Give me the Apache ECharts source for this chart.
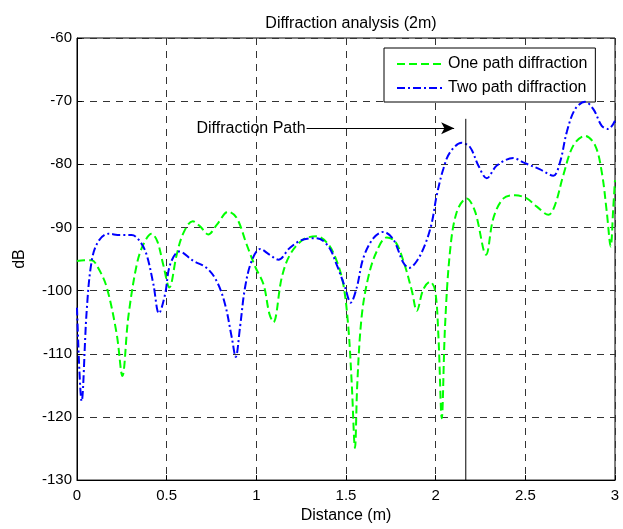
<!DOCTYPE html>
<html>
<head>
<meta charset="utf-8">
<script src="https://cdn.jsdelivr.net/npm/echarts@6/dist/echarts.min.js"></script>
<style>
html,body{margin:0;padding:0;background:#fff;}
#chart{width:623px;height:529px;}
</style>
</head>
<body>
<div id="chart"></div>
<script>
var titleText = 'Diffraction analysis (2m)';
var xName = 'Distance (m)';
var yName = 'dB';
var seriesNames = ['One path diffraction', 'Two path diffraction'];
var xTicks = [0, 0.5, 1, 1.5, 2, 2.5, 3];
var yTicks = [-130, -120, -110, -100, -90, -80, -70, -60];

var onePathX = [0, 0.04, 0.082, 0.12, 0.166, 0.221, 0.253, 0.286, 0.333, 0.37, 0.416, 0.448, 0.481, 0.515, 0.556, 0.593, 0.645, 0.686, 0.732, 0.779, 0.844, 0.891, 0.946, 0.995, 1.04, 1.073, 1.095, 1.142, 1.188, 1.262, 1.337, 1.402, 1.448, 1.485, 1.513, 1.532, 1.55, 1.563, 1.587, 1.624, 1.671, 1.727, 1.774, 1.82, 1.867, 1.895, 1.931, 1.969, 1.997, 2.015, 2.034, 2.052, 2.08, 2.118, 2.173, 2.22, 2.281, 2.322, 2.378, 2.443, 2.508, 2.564, 2.629, 2.666, 2.712, 2.768, 2.833, 2.889, 2.926, 2.954, 2.976, 2.99, 3.0];
var onePathY = [-95.3, -95.2, -95.2, -96.5, -99.5, -106.8, -113.5, -104.2, -95.9, -92.7, -91.0, -92.2, -95.9, -99.5, -94.3, -90.9, -89.0, -89.8, -91.1, -89.6, -87.5, -88.5, -92.7, -96.3, -99.0, -103.7, -105.0, -97.9, -94.3, -91.9, -91.4, -92.7, -95.3, -99.0, -105.8, -114.7, -124.9, -114.7, -104.2, -97.9, -93.8, -91.6, -92.2, -95.3, -100.0, -103.2, -99.8, -98.6, -100.0, -107.0, -120.2, -105.8, -93.8, -87.5, -85.4, -87.5, -94.3, -88.5, -85.4, -84.9, -85.4, -86.7, -88.0, -86.4, -81.7, -77.0, -75.5, -77.0, -81.2, -87.5, -93.0, -87.0, -82.5];

var twoPathX = [0, 0.026, 0.054, 0.082, 0.119, 0.175, 0.24, 0.305, 0.351, 0.388, 0.426, 0.457, 0.491, 0.519, 0.571, 0.649, 0.723, 0.779, 0.825, 0.863, 0.885, 0.909, 0.937, 0.974, 1.021, 1.073, 1.123, 1.188, 1.262, 1.337, 1.402, 1.448, 1.495, 1.526, 1.56, 1.597, 1.653, 1.708, 1.764, 1.82, 1.852, 1.895, 1.941, 1.978, 2.006, 2.043, 2.08, 2.145, 2.192, 2.238, 2.285, 2.341, 2.433, 2.489, 2.582, 2.656, 2.694, 2.731, 2.777, 2.833, 2.88, 2.926, 2.963, 3.0];
var twoPathY = [-102.7, -117.5, -103.2, -95.3, -92.2, -91.0, -91.2, -91.2, -92.2, -94.3, -99.0, -103.6, -100.6, -95.9, -93.8, -95.3, -96.4, -98.5, -102.1, -107.4, -110.5, -105.8, -99.5, -95.3, -93.4, -94.3, -95.1, -93.2, -91.9, -91.7, -93.0, -95.9, -99.5, -101.9, -99.5, -94.8, -91.7, -90.7, -91.9, -95.6, -96.4, -95.3, -92.7, -89.3, -84.9, -80.7, -78.1, -76.6, -77.3, -80.2, -82.2, -80.2, -79.0, -79.7, -80.8, -81.8, -79.6, -74.9, -71.3, -70.1, -71.3, -73.9, -74.4, -73.1];

var annotText = 'Diffraction Path';
var arrowX = [1.28, 2.103];
var arrowY = -74.3;
var pathLineX = 2.168;
var pathLineY = [-72.8, -130];

function zip(xs, ys) { return xs.map(function (x, i) { return [x, ys[i]]; }); }

var FONT = 'Liberation Sans, Arial, sans-serif';
var chart = echarts.init(document.getElementById('chart'), null, {renderer: 'canvas'});
chart.setOption({
  animation: false,
  backgroundColor: '#fff',
  title: {
    text: titleText, left: 346, top: 11, textAlign: 'center',
    textStyle: {fontFamily: FONT, fontSize: 16, fontWeight: 'normal', color: '#000'}
  },
  grid: {left: 77, top: 38, width: 538, height: 446, show: true, borderColor: '#000', borderWidth: 1, backgroundColor: '#fff'},
  legend: {
    orient: 'vertical', left: 384, top: 48,
    data: seriesNames,
    backgroundColor: '#fff', borderColor: '#000', borderWidth: 1,
    padding: [8, 8, 6, 12], itemWidth: 46, itemHeight: 16, itemGap: 8,
    itemStyle: {opacity: 0},
    textStyle: {fontFamily: FONT, fontSize: 16, color: '#000'}
  },
  xAxis: {
    type: 'value', min: 0, max: 3, interval: 0.5,
    name: xName, nameLocation: 'middle', nameGap: 26,
    nameTextStyle: {fontFamily: FONT, fontSize: 16, color: '#000'},
    axisLine: {show: true, onZero: false, lineStyle: {color: '#000', width: 1}},
    axisTick: {show: true, inside: true, length: 5, lineStyle: {color: '#000'}},
    axisLabel: {fontFamily: FONT, fontSize: 15, color: '#000', margin: 8,
      formatter: function (v) { return xTicks.indexOf(v) >= 0 ? String(v) : ''; }},
    splitLine: {show: true, lineStyle: {color: '#333', width: 1, type: [7, 6]}}
  },
  yAxis: {
    type: 'value', min: -130, max: -60, interval: 10,
    name: yName, nameLocation: 'middle', nameGap: 49, nameRotate: 90,
    nameTextStyle: {fontFamily: FONT, fontSize: 16, color: '#000'},
    axisLine: {show: true, onZero: false, lineStyle: {color: '#000', width: 1}},
    axisTick: {show: true, inside: true, length: 5, lineStyle: {color: '#000'}},
    axisLabel: {fontFamily: FONT, fontSize: 15, color: '#000', margin: 5,
      formatter: function (v) { return yTicks.indexOf(v) >= 0 ? String(v) : ''; }},
    splitLine: {show: true, lineStyle: {color: '#333', width: 1, type: [7, 6]}}
  },
  series: [
    {
      name: seriesNames[0], type: 'line', data: zip(onePathX, onePathY),
      symbol: 'none', smooth: 0.35, z: 3,
      lineStyle: {color: '#00ff00', width: 2, type: [8, 4]},
      itemStyle: {color: '#00ff00'}
    },
    {
      name: seriesNames[1], type: 'line', data: zip(twoPathX, twoPathY),
      symbol: 'none', smooth: 0.35, z: 4,
      lineStyle: {color: '#0000ff', width: 2, type: [8, 3, 2, 3]},
      itemStyle: {color: '#0000ff'}
    },
    {
      name: 'annot', type: 'line', data: [[pathLineX, pathLineY[0]], [pathLineX, pathLineY[1]]],
      symbol: 'none', silent: true, z: 5,
      lineStyle: {color: '#000', width: 1, type: 'solid'},
      markLine: {
        silent: true, symbol: ['none', 'arrow'], symbolSize: [9, 13],
        lineStyle: {color: '#000', width: 1, type: 'solid'},
        label: {show: true, position: 'start', formatter: annotText, distance: 1,
          fontFamily: FONT, fontSize: 16, color: '#000'},
        data: [[{coord: [arrowX[0], arrowY]}, {coord: [arrowX[1], arrowY]}]]
      }
    }
  ]
});
</script>
</body>
</html>
